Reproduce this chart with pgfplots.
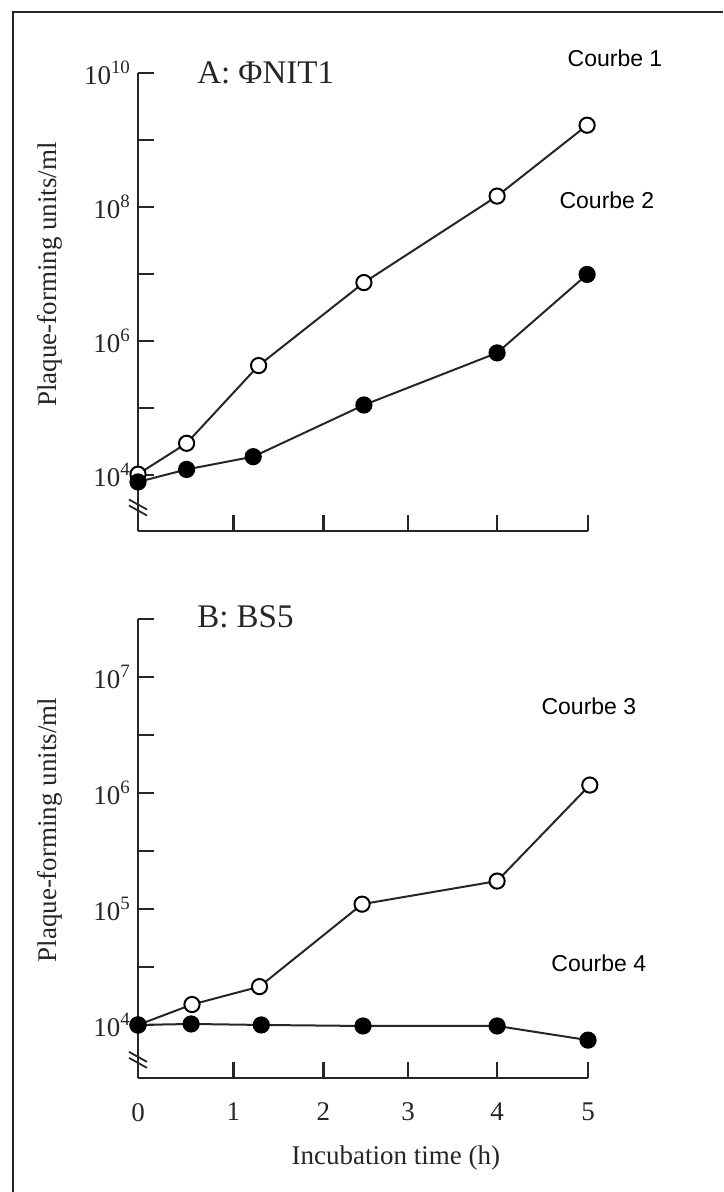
\documentclass[border=0pt]{standalone}
\usepackage{fontspec}
\setmainfont{Liberation Serif}
\newfontfamily\arialfont{Liberation Sans}
\usepackage{pgfplots}
\pgfplotsset{compat=1.18}

\tikzset{
  openmk/.style={black!85, line width=1pt, mark=*, mark size=3.8pt, mark options={fill=white, draw=black, line width=1pt}},
  fullmk/.style={black!85, line width=1pt, mark=*, mark size=3.8pt, mark options={fill=black, draw=black}},
  brk/.style={line width=0.9pt, black!85},
  crb/.style={font=\arialfont\fontsize{11.5}{13}\selectfont},
  ttl/.style={anchor=west, font=\fontsize{16.5}{18}\selectfont, black!85},
}

\begin{document}
\begin{tikzpicture}
\path[use as bounding box] (0,0) rectangle (361.5pt,596pt);
\draw[line width=1pt, black!85] (6.5pt,0) -- (6.5pt,590pt) -- (361.5pt,590pt);

% Panel A
\begin{axis}[at={(69pt,330.5pt)}, anchor=south west,
  scale only axis, width=225pt, height=229pt,
  xmin=0, xmax=5, ymode=log, clip=false,
  ymin=1445, ymax=1e10,
  axis x line=bottom, axis y line=left,
  axis line style={-, line width=1.4pt, black!85},
  tick align=inside, major tick length=8pt,
  tick style={line width=1.1pt, black!85},
  xtick={0,1.06,2.06,3.0,3.99,5}, xticklabels={},
  ytick={1e4,1e5,1e6,1e7,1e8,1e9,1e10}, yminorticks=false,
  yticklabels={10\textsuperscript{4},,10\textsuperscript{6},,10\textsuperscript{8},,10\textsuperscript{10}},
  ticklabel style={font=\fontsize{13.5}{15}\selectfont, black!85},
  ylabel={Plaque-forming units/ml},
  every axis y label/.style={at={(axis description cs:-0.196,0.56)}, rotate=90, anchor=center,
    font=\fontsize{13.5}{15}\selectfont, black!85}]
  \addplot[openmk] coordinates {(0,1.02e4)(0.54,2.95e4)(1.34,4.27e5)(2.51,7.41e6)(3.99,1.45e8)(4.99,1.66e9)};
  \addplot[fullmk] coordinates {(0,7.8e3)(0.54,1.2e4)(1.28,1.86e4)(2.51,1.1e5)(3.99,6.6e5)(4.99,9.8e6)};
  \draw[brk] ([shift={(-4.5pt,4pt)}]axis cs:0,3.24e3) -- ++(9pt,-5pt);
  \draw[brk] ([shift={(-4.5pt,1pt)}]axis cs:0,3.24e3) -- ++(9pt,-5pt);
  \node[ttl] at (axis description cs:0.116,1.0) {A: ΦNIT1};
  \node[crb] at (axis description cs:1.06,1.033) {Courbe 1};
  \node[crb] at (axis description cs:1.042,0.723) {Courbe 2};
\end{axis}

% Panel B
\begin{axis}[at={(69pt,57pt)}, anchor=south west,
  scale only axis, width=225pt, height=229.5pt,
  xmin=0, xmax=5, ymode=log, clip=false,
  ymin=3490, ymax=3.1623e7,
  axis x line=bottom, axis y line=left,
  axis line style={-, line width=1.4pt, black!85},
  tick align=inside, major tick length=8pt,
  tick style={line width=1.1pt, black!85},
  xtick={0,1.06,2.06,3.0,3.99,5}, xticklabels={0,1,2,3,4,5},
  xticklabel style={yshift=-9pt},
  ytick={1e4,3.1623e4,1e5,3.1623e5,1e6,3.1623e6,1e7,3.1623e7}, yminorticks=false,
  yticklabels={10\textsuperscript{4},,10\textsuperscript{5},,10\textsuperscript{6},,10\textsuperscript{7},},
  ticklabel style={font=\fontsize{13.5}{15}\selectfont, black!85},
  xlabel={Incubation time (h)},
  every axis x label/.style={at={(axis description cs:0.573,0)}, yshift=-40pt, anchor=center,
    font=\fontsize{13.5}{15}\selectfont, black!85},
  ylabel={Plaque-forming units/ml},
  every axis y label/.style={at={(axis description cs:-0.196,0.54)}, rotate=90, anchor=center,
    font=\fontsize{13.5}{15}\selectfont, black!85}]
  \addplot[openmk] coordinates {(0,1.0e4)(0.60,1.5e4)(1.35,2.14e4)(2.49,1.1e5)(3.99,1.74e5)(5.02,1.17e6)};
  \addplot[fullmk] coordinates {(0,1.0e4)(0.59,1.02e4)(1.37,1.0e4)(2.5,9.8e3)(3.99,9.8e3)(5.0,7.4e3)};
  \draw[brk] ([shift={(-4.5pt,4pt)}]axis cs:0,5.0e3) -- ++(9pt,-5pt);
  \draw[brk] ([shift={(-4.5pt,1pt)}]axis cs:0,5.0e3) -- ++(9pt,-5pt);
  \node[ttl] at (axis description cs:0.116,1.004) {B: BS5};
  \node[crb] at (axis description cs:1.002,0.81) {Courbe 3};
  \node[crb] at (axis description cs:1.024,0.25) {Courbe 4};
\end{axis}
\end{tikzpicture}
\end{document}
